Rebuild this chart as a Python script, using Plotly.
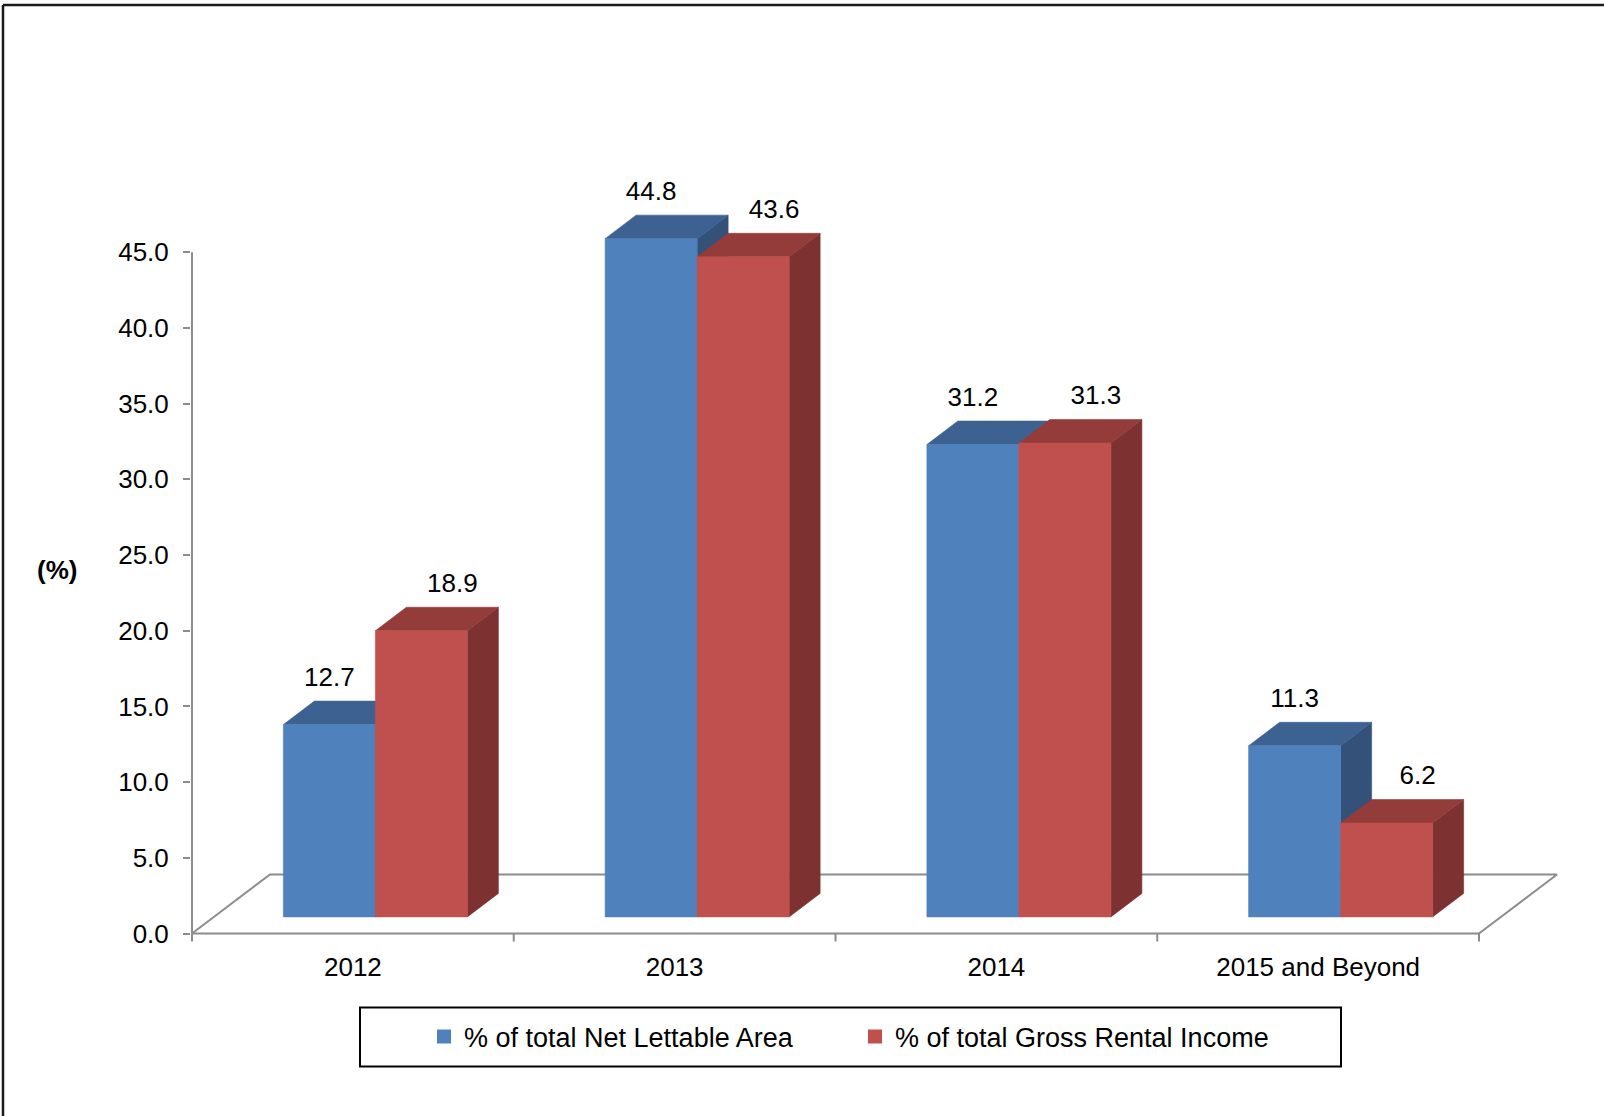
import plotly.graph_objects as go

# ---------------- data ----------------
categories = ["2012", "2013", "2014", "2015 and Beyond"]
net_lettable_area = [12.7, 44.8, 31.2, 11.3]
gross_rental_income = [18.9, 43.6, 31.3, 6.2]
series_names = ["% of total Net Lettable Area", "% of total Gross Rental Income"]
y_tick_values = [0, 5, 10, 15, 20, 25, 30, 35, 40, 45]
y_axis_title = "(%)"

series_values = [net_lettable_area, gross_rental_income]

# ---------------- style ----------------
FRONT = ["#4F81BD", "#C0504D"]
TOP = ["#3D6291", "#943C3A"]
SIDE = ["#345179", "#7D3231"]
GRID_GREY = "#8C8C8C"
FONT = "Liberation Sans, Arial, sans-serif"
FS = 26

W, H = 1604, 1116
L, R, T, B = 191, 1600, 150, 945      # plot area in page pixels
PX_X = 321.75                         # pixels per category
PX_Y = 15.14                          # pixels per value unit
X0_PX = 192.0                         # page pixel of category boundary -0.5
Y0_PX = 933.5                         # page pixel of value 0 (front floor edge)

x_range = [-0.5 - (X0_PX - L) / PX_X, -0.5 + (R - X0_PX) / PX_X]
y_range = [-(B - Y0_PX) / PX_Y, (Y0_PX - T) / PX_Y]

def dxu(px):
    return px / PX_X

def dyu(px):
    return px / PX_Y

def paper_x(px):
    return (px - L) / (R - L)

def paper_y(py):
    return (B - py) / (B - T)

# 3-D geometry (in axis units)
floor_dx, floor_dy = dxu(78), dyu(59)          # depth of floor
front_dx, front_dy = dxu(22.5), dyu(16.6)      # where bar front faces sit
bar_dx, bar_dy = dxu(31), dyu(23.5)            # depth of a bar
bar_w = dxu(92)                                # width of a bar

fig = go.Figure()

# legend entries (square symbols)
for s in range(2):
    fig.add_trace(go.Scatter(x=[None], y=[None], name=series_names[s], mode="markers",
                             marker=dict(color=FRONT[s], symbol="square", size=14,
                                         line=dict(width=0)),
                             showlegend=True, hoverinfo="skip"))

n = len(categories)
x_lo, x_hi = -0.5, n - 0.5

# floor outline + axes lines
floor_x = [x_lo, x_hi, None,
           x_lo, x_lo + floor_dx, x_hi + floor_dx, x_hi, None,
           x_lo, x_lo]
floor_y = [0, 0, None,
           0, floor_dy, floor_dy, 0, None,
           0, y_tick_values[-1]]
for k in range(n + 1):
    b = x_lo + k
    floor_x += [None, b, b]
    floor_y += [None, 0, -dyu(8)]
fig.add_trace(go.Scatter(x=floor_x, y=floor_y, mode="lines",
                         line=dict(color=GRID_GREY, width=2),
                         showlegend=False, hoverinfo="skip"))

# bars: side, top, front for each series (blue first, red drawn over it)
for s in range(2):
    vals = series_values[s]
    sx, sy, tx, ty, fx, fy = [], [], [], [], [], []
    for i, v in enumerate(vals):
        xl = i + front_dx - bar_w + s * bar_w
        xr = xl + bar_w
        y0 = front_dy
        y1 = front_dy + v
        # side face
        sx += [xr, xr + bar_dx, xr + bar_dx, xr, xr, None]
        sy += [y0, y0 + bar_dy, y1 + bar_dy, y1, y0, None]
        # top face
        tx += [xl, xr, xr + bar_dx, xl + bar_dx, xl, None]
        ty += [y1, y1, y1 + bar_dy, y1 + bar_dy, y1, None]
        # front face
        fx += [xl, xr, xr, xl, xl, None]
        fy += [y0, y0, y1, y1, y0, None]
    for xs, ys, col in ((sx, sy, SIDE[s]), (tx, ty, TOP[s]), (fx, fy, FRONT[s])):
        fig.add_trace(go.Scatter(x=xs, y=ys, mode="lines", fill="toself",
                                 fillcolor=col, line=dict(color=col, width=0.6),
                                 showlegend=False, hoverinfo="skip"))

# data labels
for s in range(2):
    vals = series_values[s]
    lx, ly, lt = [], [], []
    for i, v in enumerate(vals):
        xl = i + front_dx - bar_w + s * bar_w
        cx = xl + bar_w / 2 + (bar_dx if s == 1 else 0)
        lx.append(cx)
        ly.append(front_dy + v + bar_dy + dyu(9))
        lt.append(f"{v:.1f}")
    fig.add_trace(go.Scatter(x=lx, y=ly, mode="text", text=lt,
                             textposition="top center", cliponaxis=False,
                             textfont=dict(family=FONT, size=FS, color="#000000"),
                             showlegend=False, hoverinfo="skip"))

fig.update_layout(
    width=W, height=H, autosize=False,
    margin=dict(l=L, r=W - R, t=T, b=H - B, pad=0),
    paper_bgcolor="white", plot_bgcolor="white",
    font=dict(family=FONT, size=FS, color="#000000"),
    xaxis=dict(range=x_range, showgrid=False, zeroline=False, showline=False,
               tickmode="array", tickvals=list(range(n)), ticktext=categories,
               ticks="", ticklabelstandoff=4,
               tickfont=dict(family=FONT, size=FS, color="#000000"),
               fixedrange=True),
    yaxis=dict(range=y_range, showgrid=False, zeroline=False, showline=False,
               tickmode="array", tickvals=y_tick_values,
               ticktext=[f"{v:.1f}" for v in y_tick_values],
               ticks="outside", ticklen=7, tickwidth=2, tickcolor=GRID_GREY,
               ticklabelstandoff=9,
               tickfont=dict(family=FONT, size=FS, color="#000000"),
               fixedrange=True),
    legend=dict(orientation="h", x=paper_x(424), y=paper_y(1037),
                xanchor="left", yanchor="middle",
                bgcolor="rgba(0,0,0,0)", borderwidth=0,
                entrywidth=386, entrywidthmode="pixels",
                itemsizing="trace",
                font=dict(family=FONT, size=27, color="#000000"),
                traceorder="normal"),
    showlegend=True,
    annotations=[dict(text="<b>" + y_axis_title + "</b>", xref="paper", yref="paper",
                      x=paper_x(57), y=paper_y(570), xanchor="center", yanchor="middle",
                      showarrow=False, font=dict(family=FONT, size=FS, color="#000000"))],
    shapes=[
        # legend frame
        dict(type="rect", xref="paper", yref="paper",
             x0=paper_x(360), x1=paper_x(1341), y0=paper_y(1007.5), y1=paper_y(1066.5),
             line=dict(color="#000000", width=2), fillcolor="rgba(0,0,0,0)"),
        # outer chart frame (top and left edges visible)
        dict(type="line", xref="paper", yref="paper",
             x0=paper_x(3), x1=paper_x(1610), y0=paper_y(5), y1=paper_y(5),
             line=dict(color="#1A1A1A", width=2.5)),
        dict(type="line", xref="paper", yref="paper",
             x0=paper_x(3), x1=paper_x(3), y0=paper_y(5), y1=paper_y(1120),
             line=dict(color="#1A1A1A", width=2.5)),
    ],
)

fig.write_html("out.html")
